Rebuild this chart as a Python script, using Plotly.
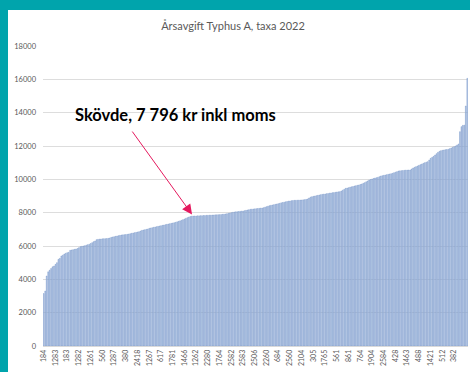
import plotly.graph_objects as go

# Annual fee per municipality, sorted ascending (kr incl. VAT)
fees = [
    3150, 3300, 4200, 4450, 4550, 4650, 4750, 4800, 4900, 5000,
    5200, 5260, 5400, 5450, 5520, 5560, 5600, 5620, 5740, 5760,
    5780, 5800, 5820, 5850, 5900, 5960, 5980, 6000, 6020, 6050,
    6080, 6100, 6150, 6200, 6260, 6300, 6380, 6400, 6410, 6420,
    6430, 6440, 6440, 6450, 6460, 6480, 6520, 6540, 6560, 6580,
    6600, 6620, 6640, 6660, 6670, 6680, 6690, 6700, 6720, 6740,
    6760, 6780, 6800, 6820, 6840, 6860, 6900, 6940, 6960, 6980,
    7000, 7020, 7060, 7080, 7100, 7120, 7140, 7160, 7180, 7200,
    7220, 7240, 7260, 7280, 7300, 7320, 7340, 7360, 7380, 7400,
    7420, 7450, 7480, 7510, 7540, 7580, 7620, 7660, 7700, 7740,
    7770, 7790, 7796, 7800, 7800, 7810, 7810, 7820, 7820, 7830,
    7830, 7840, 7840, 7850, 7850, 7860, 7860, 7870, 7870, 7880,
    7880, 7890, 7900, 7910, 7920, 7940, 7960, 7980, 8000, 8020,
    8040, 8050, 8060, 8070, 8080, 8090, 8100, 8120, 8140, 8160,
    8180, 8200, 8210, 8220, 8230, 8240, 8250, 8260, 8270, 8280,
    8300, 8330, 8360, 8390, 8420, 8440, 8460, 8480, 8500, 8520,
    8540, 8560, 8590, 8610, 8630, 8650, 8670, 8690, 8700, 8720,
    8730, 8740, 8740, 8750, 8750, 8760, 8760, 8770, 8780, 8800,
    8820, 8880, 8930, 8960, 8980, 9000, 9020, 9040, 9060, 9080,
    9100, 9110, 9120, 9140, 9150, 9170, 9180, 9200, 9210, 9220,
    9240, 9250, 9260, 9300, 9350, 9400, 9460, 9480, 9500, 9530,
    9550, 9570, 9600, 9620, 9640, 9660, 9690, 9720, 9760, 9800,
    9850, 9900, 9960, 9990, 10020, 10050, 10080, 10100, 10120, 10160,
    10200, 10220, 10240, 10260, 10280, 10300, 10320, 10340, 10360, 10400,
    10430, 10460, 10500, 10510, 10520, 10530, 10540, 10550, 10555, 10560,
    10560, 10620, 10680, 10720, 10760, 10800, 10840, 10880, 10920, 10960,
    11000, 11030, 11060, 11160, 11260, 11320, 11380, 11460, 11540, 11620,
    11680, 11720, 11740, 11760, 11780, 11790, 11800, 11840, 11880, 11920,
    11960, 12000, 12060, 12120, 12860, 13160, 13240, 13250, 14400, 16060,
]

# Municipality codes shown on the x axis (every 8th bar)
code_labels = [
    "184", "1283", "183", "1282", "1261", "560", "1287", "380", "2418", "1267",
    "617", "1781", "1466", "1262", "2280", "1764", "2582", "2583", "2506", "2260",
    "684", "2560", "2104", "305", "1765", "561", "861", "764", "1904", "2584",
    "428", "1463", "488", "1421", "512", "382",
]
label_step = 8

skovde_index = 102
skovde_fee = 7796

title_text = "Årsavgift Typhus A, taxa 2022"
note_text = "Skövde, 7 796 kr inkl moms"

W, H = 470, 372
ML, MR, MT, MB = 43, 2, 46, 26
PW, PH = W - ML - MR, H - MT - MB

def px_to_paper_x(px):
    return (px - ML) / PW

def py_to_paper_y(py):
    return (H - MB - py) / PH

x_idx = list(range(len(fees)))
tick_pos = [i * label_step for i in range(len(code_labels))]

fig = go.Figure()
fig.add_trace(go.Bar(
    x=x_idx,
    y=fees,
    marker=dict(color="rgba(192,209,234,0.999)",
                line=dict(color="#6688C2", width=0.4)),
    hoverinfo="y",
))

fig.update_layout(
    width=W,
    height=H,
    margin=dict(l=ML, r=MR, t=MT, b=MB),
    paper_bgcolor="#00A4AC",
    plot_bgcolor="rgba(0,0,0,0)",
    bargap=0.45,
    showlegend=False,
    font=dict(family="Lato, Liberation Sans, sans-serif", color="#595959"),
    title=dict(
        text=title_text,
        x=233 / W, xref="container", xanchor="center",
        y=1 - 26 / H, yref="container", yanchor="middle",
        font=dict(size=11, color="#595959"),
    ),
    xaxis=dict(
        range=[-0.5, len(fees) - 0.5],
        tickmode="array",
        tickvals=tick_pos,
        ticktext=code_labels,
        tickangle=-90,
        tickfont=dict(size=7, color="#595959"),
        showgrid=False,
        showline=True,
        linecolor="#D9D9D9",
        ticks="",
        zeroline=False,
    ),
    yaxis=dict(
        range=[0, 18000],
        dtick=2000,
        tickformat="d",
        tickfont=dict(size=7.5, color="#595959"),
        showgrid=True,
        gridcolor="#DDDDDD",
        gridwidth=1,
        zeroline=False,
        showline=False,
        ticks="",
        ticklabelstandoff=6,
    ),
    shapes=[
        dict(
            type="rect", xref="paper", yref="paper", layer="below",
            x0=px_to_paper_x(8), x1=px_to_paper_x(W + 2),
            y0=py_to_paper_y(H + 2), y1=py_to_paper_y(10),
            fillcolor="white", line=dict(width=0),
        ),
    ],
    annotations=[
        dict(
            text="<b>" + note_text + "</b>",
            xref="paper", yref="paper",
            x=px_to_paper_x(175), y=py_to_paper_y(115),
            xanchor="center", yanchor="middle",
            showarrow=False,
            font=dict(size=16.5, color="#000000", family="Lato, Liberation Sans, sans-serif"),
        ),
        dict(
            text="",
            x=skovde_index, y=skovde_fee,
            xref="x", yref="y",
            ax=-62, ay=-86,
            showarrow=True,
            arrowhead=2,
            arrowsize=2,
            arrowwidth=1,
            arrowcolor="#E5195E",
            standoff=2,
        ),
    ],
)

fig.write_html("out.html")
